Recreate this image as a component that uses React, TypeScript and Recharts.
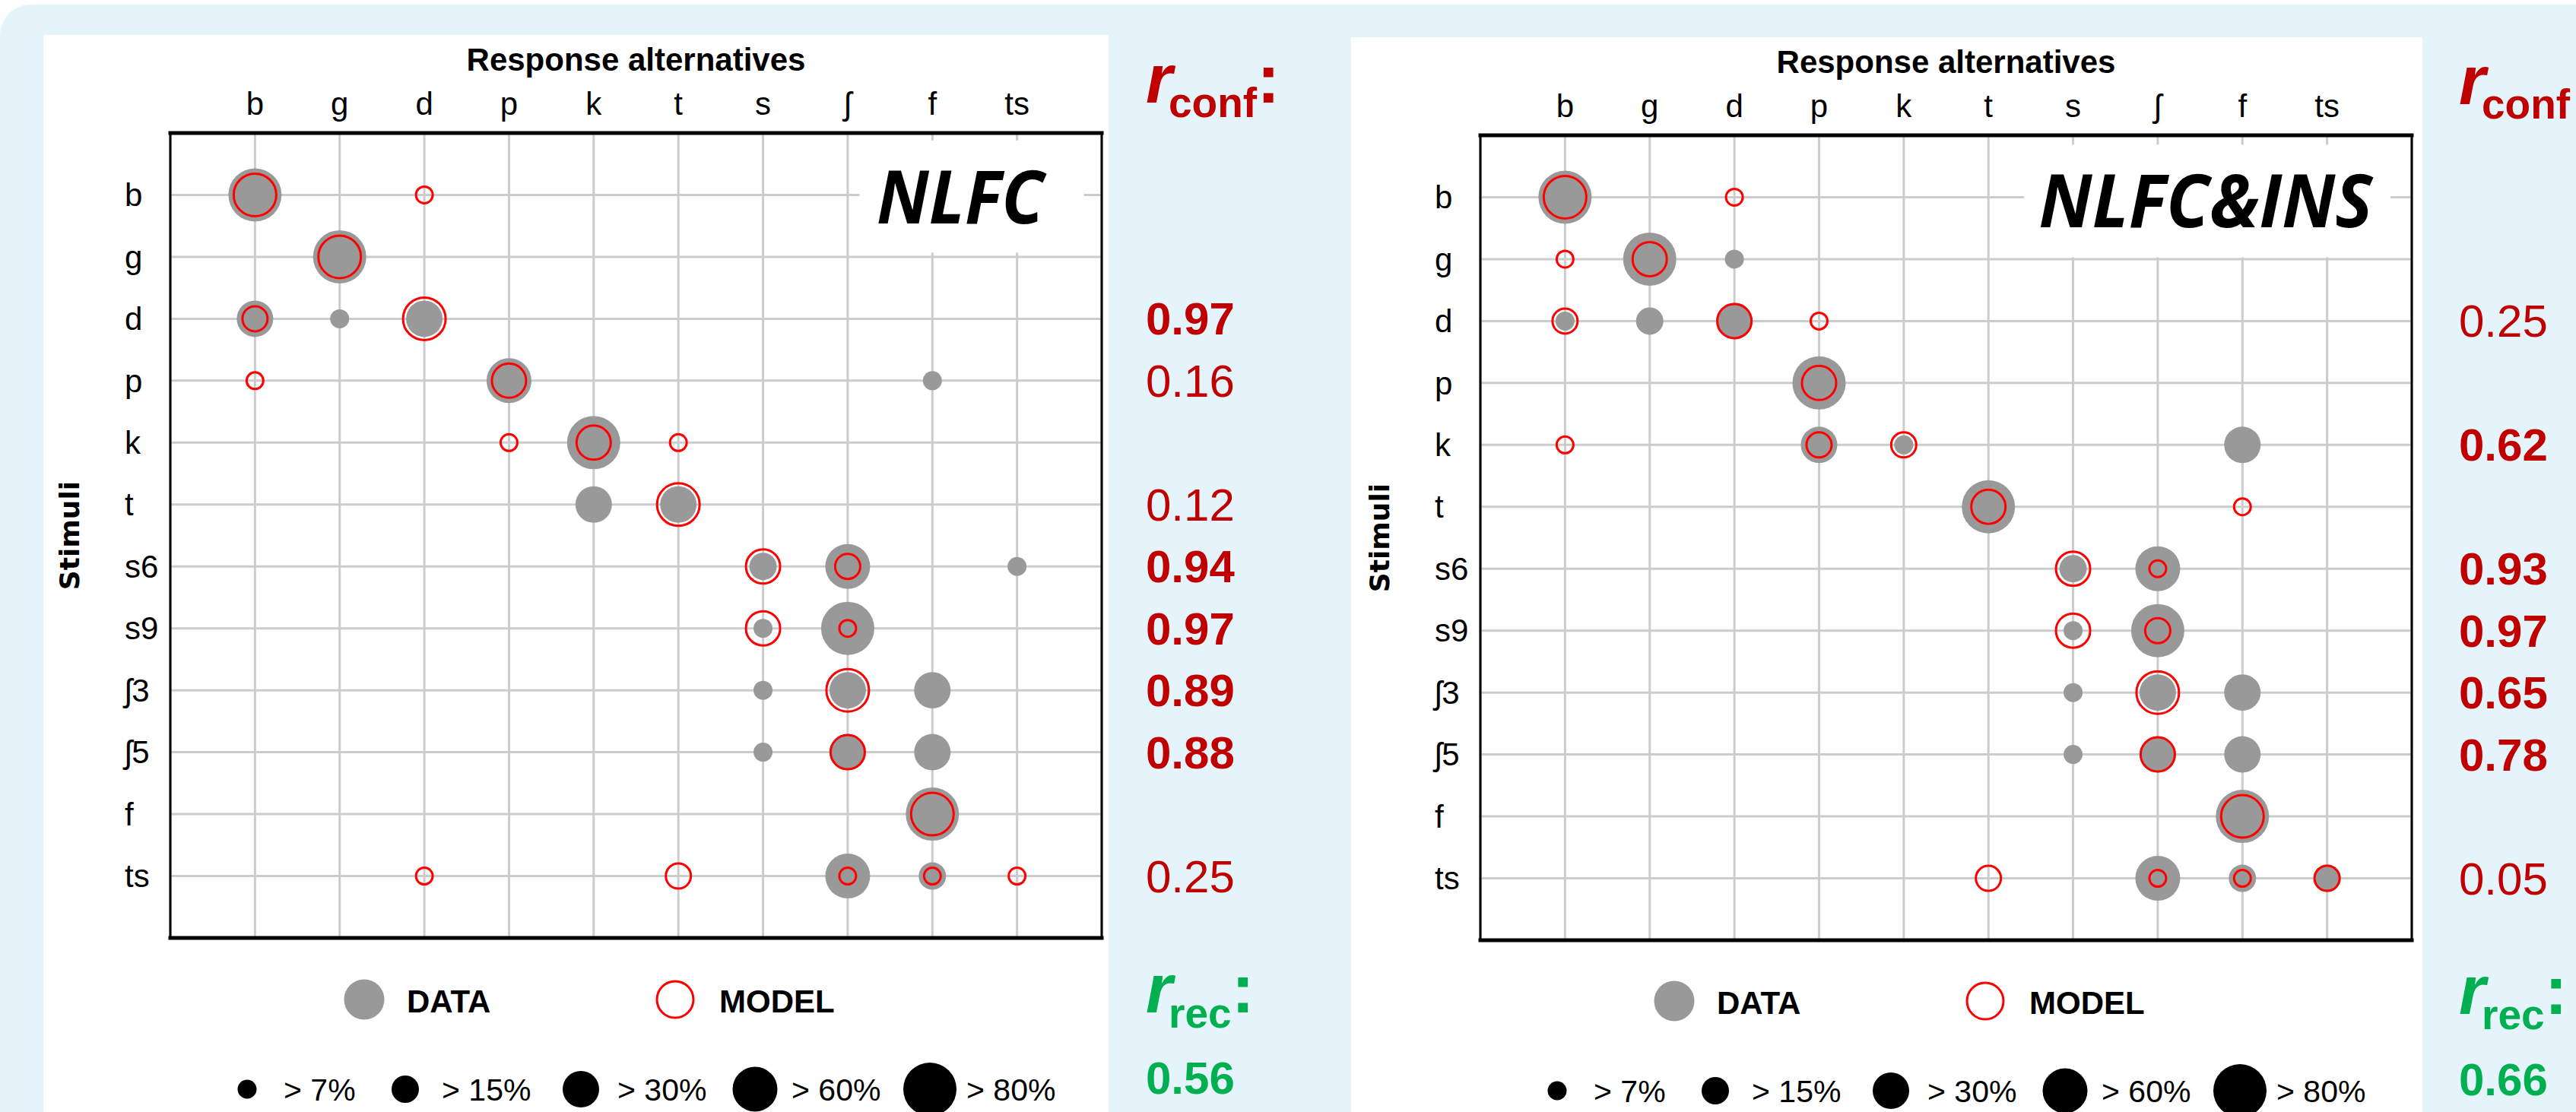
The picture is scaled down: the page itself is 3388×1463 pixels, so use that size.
import React from "react";
import {
  ScatterChart,
  Scatter,
  XAxis,
  YAxis,
  CartesianGrid,
  ReferenceArea,
  ReferenceLine,
} from "recharts";

const FONT = '"Liberation Sans", Arial, Helvetica, sans-serif';
const RED_TXT = "#c00000";
const GREEN_TXT = "#00b050";
const DOT_GRAY = "#999999";
const MODEL_RED = "#ff0000";
const BLUE_BG = "#e5f4fb";

// axes
const RESPONSES = ["b", "g", "d", "p", "k", "t", "s", "ʃ", "f", "ts"];
const STIMULI = ["b", "g", "d", "p", "k", "t", "s6", "s9", "ʃ3", "ʃ5", "f", "ts"];

// response-proportion bins shown in the size legend (> x %)
const SIZE_BINS = [7, 15, 30, 60, 80];
// marker diameter per bin, px
const BIN_DIAM: Record<number, number> = { 7: 25, 15: 36, 30: 48, 60: 59, 80: 70 };

// [stimulus, response, bin]
const NLFC_DATA: [string, string, number][] = [
  ["b", "b", 80], ["g", "g", 80],
  ["d", "b", 30], ["d", "g", 7], ["d", "d", 30],
  ["p", "p", 60], ["p", "f", 7],
  ["k", "k", 80],
  ["t", "k", 30], ["t", "t", 30],
  ["s6", "s", 15], ["s6", "ʃ", 60], ["s6", "ts", 7],
  ["s9", "s", 7], ["s9", "ʃ", 80],
  ["ʃ3", "s", 7], ["ʃ3", "ʃ", 30], ["ʃ3", "f", 30],
  ["ʃ5", "s", 7], ["ʃ5", "ʃ", 30], ["ʃ5", "f", 30],
  ["f", "f", 80],
  ["ts", "ʃ", 60], ["ts", "f", 15],
];

const NLFC_MODEL: [string, string, number][] = [
  ["b", "b", 60], ["b", "d", 7],
  ["g", "g", 60],
  ["d", "b", 15], ["d", "d", 60],
  ["p", "b", 7], ["p", "p", 30],
  ["k", "p", 7], ["k", "k", 30], ["k", "t", 7],
  ["t", "t", 60],
  ["s6", "s", 30], ["s6", "ʃ", 15],
  ["s9", "s", 30], ["s9", "ʃ", 7],
  ["ʃ3", "ʃ", 60],
  ["ʃ5", "ʃ", 30],
  ["f", "f", 60],
  ["ts", "d", 7], ["ts", "t", 15], ["ts", "ʃ", 7], ["ts", "f", 7], ["ts", "ts", 7],
];

const INS_DATA: [string, string, number][] = [
  ["b", "b", 80],
  ["g", "g", 80], ["g", "d", 7],
  ["d", "b", 7], ["d", "g", 15], ["d", "d", 30],
  ["p", "p", 80],
  ["k", "p", 30], ["k", "k", 7], ["k", "f", 30],
  ["t", "t", 80],
  ["s6", "s", 15], ["s6", "ʃ", 60],
  ["s9", "s", 7], ["s9", "ʃ", 80],
  ["ʃ3", "s", 7], ["ʃ3", "ʃ", 30], ["ʃ3", "f", 30],
  ["ʃ5", "s", 7], ["ʃ5", "ʃ", 30], ["ʃ5", "f", 30],
  ["f", "f", 80],
  ["ts", "ʃ", 60], ["ts", "f", 15], ["ts", "ts", 15],
];

const INS_MODEL: [string, string, number][] = [
  ["b", "b", 60], ["b", "d", 7],
  ["g", "b", 7], ["g", "g", 30],
  ["d", "b", 15], ["d", "d", 30], ["d", "p", 7],
  ["p", "p", 30],
  ["k", "b", 7], ["k", "p", 15], ["k", "k", 15],
  ["t", "t", 30], ["t", "f", 7],
  ["s6", "s", 30], ["s6", "ʃ", 7],
  ["s9", "s", 30], ["s9", "ʃ", 15],
  ["ʃ3", "ʃ", 60],
  ["ʃ5", "ʃ", 30],
  ["f", "f", 60],
  ["ts", "t", 15], ["ts", "ʃ", 7], ["ts", "f", 7], ["ts", "ts", 15],
];

// [stimulus, r_conf, significant]
const NLFC_RCONF: [string, number, boolean][] = [
  ["d", 0.97, true], ["p", 0.16, false], ["t", 0.12, false],
  ["s6", 0.94, true], ["s9", 0.97, true], ["ʃ3", 0.89, true],
  ["ʃ5", 0.88, true], ["ts", 0.25, false],
];
const INS_RCONF: [string, number, boolean][] = [
  ["d", 0.25, false], ["k", 0.62, true],
  ["s6", 0.93, true], ["s9", 0.97, true], ["ʃ3", 0.65, true],
  ["ʃ5", 0.78, true], ["ts", 0.05, false],
];
const NLFC_RREC = 0.56;
const INS_RREC = 0.66;

const toPoints = (rows: [string, string, number][]) =>
  rows.map(([s, r, bin]) => ({ x: RESPONSES.indexOf(r), y: STIMULI.indexOf(s), bin }));

const rowAnchors = STIMULI.map((_, i) => ({ x: 0, y: i }));

const CHART_W = 1643;
const CHART_H = 1417;

const dataShape = (p: any) => (
  <circle cx={p.cx} cy={p.cy} r={BIN_DIAM[p.payload.bin] / 2} fill={DOT_GRAY} />
);
const modelShape = (p: any) => (
  <circle
    cx={p.cx}
    cy={p.cy}
    r={BIN_DIAM[p.payload.bin] / 2 - 1.5}
    fill="none"
    stroke={MODEL_RED}
    strokeWidth={3}
  />
);

type PanelCfg = {
  left: number;
  top: number;
  data: [string, string, number][];
  model: [string, string, number][];
  rconf: [string, number, boolean][];
  rDx: number;
  box: [number, number, number, number];
  name: string;
  nameWidth: number;
  nameDx: number;
};

function Panel({ cfg }: { cfg: PanelCfg }) {
  const dataPts = toPoints(cfg.data);
  const modelPts = toPoints(cfg.model);

  const colTick = (p: any) => (
    <text x={p.x} y={p.y - 24} textAnchor="middle" fontFamily={FONT} fontSize={42} fill="#000">
      {RESPONSES[p.payload.value]}
    </text>
  );
  const rowTick = (p: any) => (
    <text x={p.x - 60} y={p.y} dy="0.35em" textAnchor="start" fontFamily={FONT} fontSize={42} fill="#000">
      {STIMULI[p.payload.value]}
    </text>
  );
  const rTick = (p: any) => {
    const hit = cfg.rconf.find((r) => r[0] === STIMULI[p.payload.value]);
    if (!hit) return <g />;
    return (
      <text
        x={p.x + cfg.rDx}
        y={p.y}
        dy="0.35em"
        textAnchor="start"
        fontFamily={FONT}
        fontSize={60}
        fontWeight={hit[2] ? 700 : 400}
        fill={RED_TXT}
      >
        {hit[1].toFixed(2)}
      </text>
    );
  };

  return (
    <div style={{ position: "absolute", left: cfg.left, top: cfg.top }}>
      <ScatterChart width={CHART_W} height={CHART_H} margin={{ top: 0, right: 0, bottom: 229, left: 0 }}>
        <CartesianGrid stroke="#cccccc" strokeWidth={3} />
        <XAxis
          type="number"
          dataKey="x"
          orientation="top"
          domain={[-1, 10]}
          ticks={[0, 1, 2, 3, 4, 5, 6, 7, 8, 9]}
          interval={0}
          height={129}
          axisLine={false}
          tickLine={false}
          tickSize={0}
          tickMargin={0}
          tick={colTick}
          allowDataOverflow
          label={{
            content: (lp: any) => (
              <text
                x={lp.viewBox.x + lp.viewBox.width / 2}
                y={lp.viewBox.y + 47}
                textAnchor="middle"
                fontFamily={FONT}
                fontSize={42}
                fontWeight={700}
                fill="#000"
              >
                Response alternatives
              </text>
            ),
          }}
        />
        <YAxis
          type="number"
          dataKey="y"
          domain={[-1, 12]}
          reversed
          ticks={[0, 1, 2, 3, 4, 5, 6, 7, 8, 9, 10, 11]}
          interval={0}
          width={167}
          axisLine={false}
          tickLine={false}
          tickSize={0}
          tickMargin={0}
          tick={rowTick}
          allowDataOverflow
          label={{
            content: (lp: any) => {
              const x = lp.viewBox.x + 47;
              const y = lp.viewBox.y + lp.viewBox.height / 2;
              return (
                <text
                  x={x}
                  y={y}
                  transform={`rotate(-90, ${x}, ${y})`}
                  textAnchor="middle"
                  fontFamily='"DejaVu Sans", Verdana, sans-serif'
                  fontSize={36}
                  fontWeight={700}
                  fill="#000"
                >
                  Stimuli
                </text>
              );
            },
          }}
        />
        <YAxis
          yAxisId="rv"
          orientation="right"
          type="number"
          dataKey="y"
          domain={[-1, 12]}
          reversed
          ticks={[0, 1, 2, 3, 4, 5, 6, 7, 8, 9, 10, 11]}
          interval={0}
          width={251}
          axisLine={false}
          tickLine={false}
          tickSize={0}
          tickMargin={0}
          tick={rTick}
          allowDataOverflow
        />
        <ReferenceArea
          x1={cfg.box[0]}
          x2={cfg.box[1]}
          y1={cfg.box[2]}
          y2={cfg.box[3]}
          fill="#ffffff"
          fillOpacity={1}
          stroke="none"
          label={{
            content: (lp: any) => (
              <text
                x={lp.viewBox.x + lp.viewBox.width / 2 + cfg.nameDx}
                y={lp.viewBox.y + 109}
                textAnchor="middle"
                fontFamily='"Open Sans", Lato, sans-serif'
                fontSize={96}
                fontWeight={700}
                fontStyle="italic"
                textLength={cfg.nameWidth}
                lengthAdjust="spacingAndGlyphs"
                fill="#000"
              >
                {cfg.name}
              </text>
            ),
          }}
        />
        <ReferenceLine x={-1} stroke="#000" strokeWidth={3} />
        <ReferenceLine x={10} stroke="#000" strokeWidth={3} />
        <ReferenceLine y={-1} stroke="#000" strokeWidth={5} strokeLinecap="square" />
        <ReferenceLine y={12} stroke="#000" strokeWidth={5} strokeLinecap="square" />
        <Scatter yAxisId="rv" data={rowAnchors} shape={() => <g />} isAnimationActive={false} />
        <Scatter data={dataPts} shape={dataShape} isAnimationActive={false} />
        <Scatter data={modelPts} shape={modelShape} isAnimationActive={false} />
      </ScatterChart>
    </div>
  );
}

function SideNotes({ dx, dy, rDx, rrec }: { dx: number; dy: number; rDx: number; rrec: number }) {
  const legendX = [325, 533, 764, 993, 1223];
  return (
    <g transform={`translate(${dx}, ${dy})`} fontFamily={FONT}>
      <g transform={`translate(${rDx}, 0)`}>
        <text x={1507} y={135} fill={RED_TXT} fontWeight={700}>
          <tspan fontStyle="italic" fontSize={90}>r</tspan>
          <tspan fontSize={55} dx={-5} dy={19}>conf</tspan>
          <tspan fontSize={90} dy={-19}>:</tspan>
        </text>
        <text x={1507} y={1332} fill={GREEN_TXT} fontWeight={700}>
          <tspan fontStyle="italic" fontSize={90}>r</tspan>
          <tspan fontSize={55} dx={-5} dy={20}>rec</tspan>
          <tspan fontSize={90} dy={-20}>:</tspan>
        </text>
        <text x={1507} y={1439} fill={GREEN_TXT} fontWeight={700} fontSize={60}>
          {rrec.toFixed(2)}
        </text>
      </g>

      <circle cx={479} cy={1315} r={26.5} fill={DOT_GRAY} />
      <text x={535} y={1332} fontSize={42} fontWeight={700} fill="#000">DATA</text>
      <circle cx={888} cy={1315} r={24} fill="none" stroke={MODEL_RED} strokeWidth={3} />
      <text x={946} y={1332} fontSize={42} fontWeight={700} fill="#000">MODEL</text>

      {SIZE_BINS.map((b, i) => (
        <g key={b}>
          <circle cx={legendX[i]} cy={1433} r={BIN_DIAM[b] / 2} fill="#000" />
          <text x={legendX[i] + 48} y={1448} fontSize={41} fill="#000">{`> ${b}%`}</text>
        </g>
      ))}
    </g>
  );
}

export default function App() {
  const nlfc: PanelCfg = {
    left: 57,
    top: 46,
    data: NLFC_DATA,
    model: NLFC_MODEL,
    rconf: NLFC_RCONF,
    rDx: 58,
    box: [7.14, 9.79, -0.88, 0.93],
    name: "NLFC",
    nameWidth: 220,
    nameDx: -15,
  };
  const ins: PanelCfg = {
    left: 1780,
    top: 49,
    data: INS_DATA,
    model: INS_MODEL,
    rconf: INS_RCONF,
    rDx: 62,
    box: [5.42, 9.75, -0.85, 0.97],
    name: "NLFC&INS",
    nameWidth: 439,
    nameDx: -2,
  };

  return (
    <div
      style={{
        position: "absolute",
        left: 0,
        top: 0,
        width: 3388,
        height: 1463,
        overflow: "hidden",
        background: "#ffffff",
      }}
    >
      <div
        style={{
          position: "absolute",
          left: 0,
          top: 6,
          width: 3388,
          height: 1457,
          background: BLUE_BG,
          borderTopLeftRadius: 40,
        }}
      />
      <div style={{ position: "absolute", left: 57, top: 46, width: 1401, height: 1417, background: "#fff" }} />
      <div style={{ position: "absolute", left: 1777, top: 49, width: 1409, height: 1414, background: "#fff" }} />

      <Panel cfg={nlfc} />
      <Panel cfg={ins} />

      <svg
        width={3388}
        height={1463}
        style={{ position: "absolute", left: 0, top: 0, pointerEvents: "none" }}
      >
        <SideNotes dx={0} dy={0} rDx={0} rrec={NLFC_RREC} />
        <SideNotes dx={1723} dy={2} rDx={4} rrec={INS_RREC} />
      </svg>
    </div>
  );
}
